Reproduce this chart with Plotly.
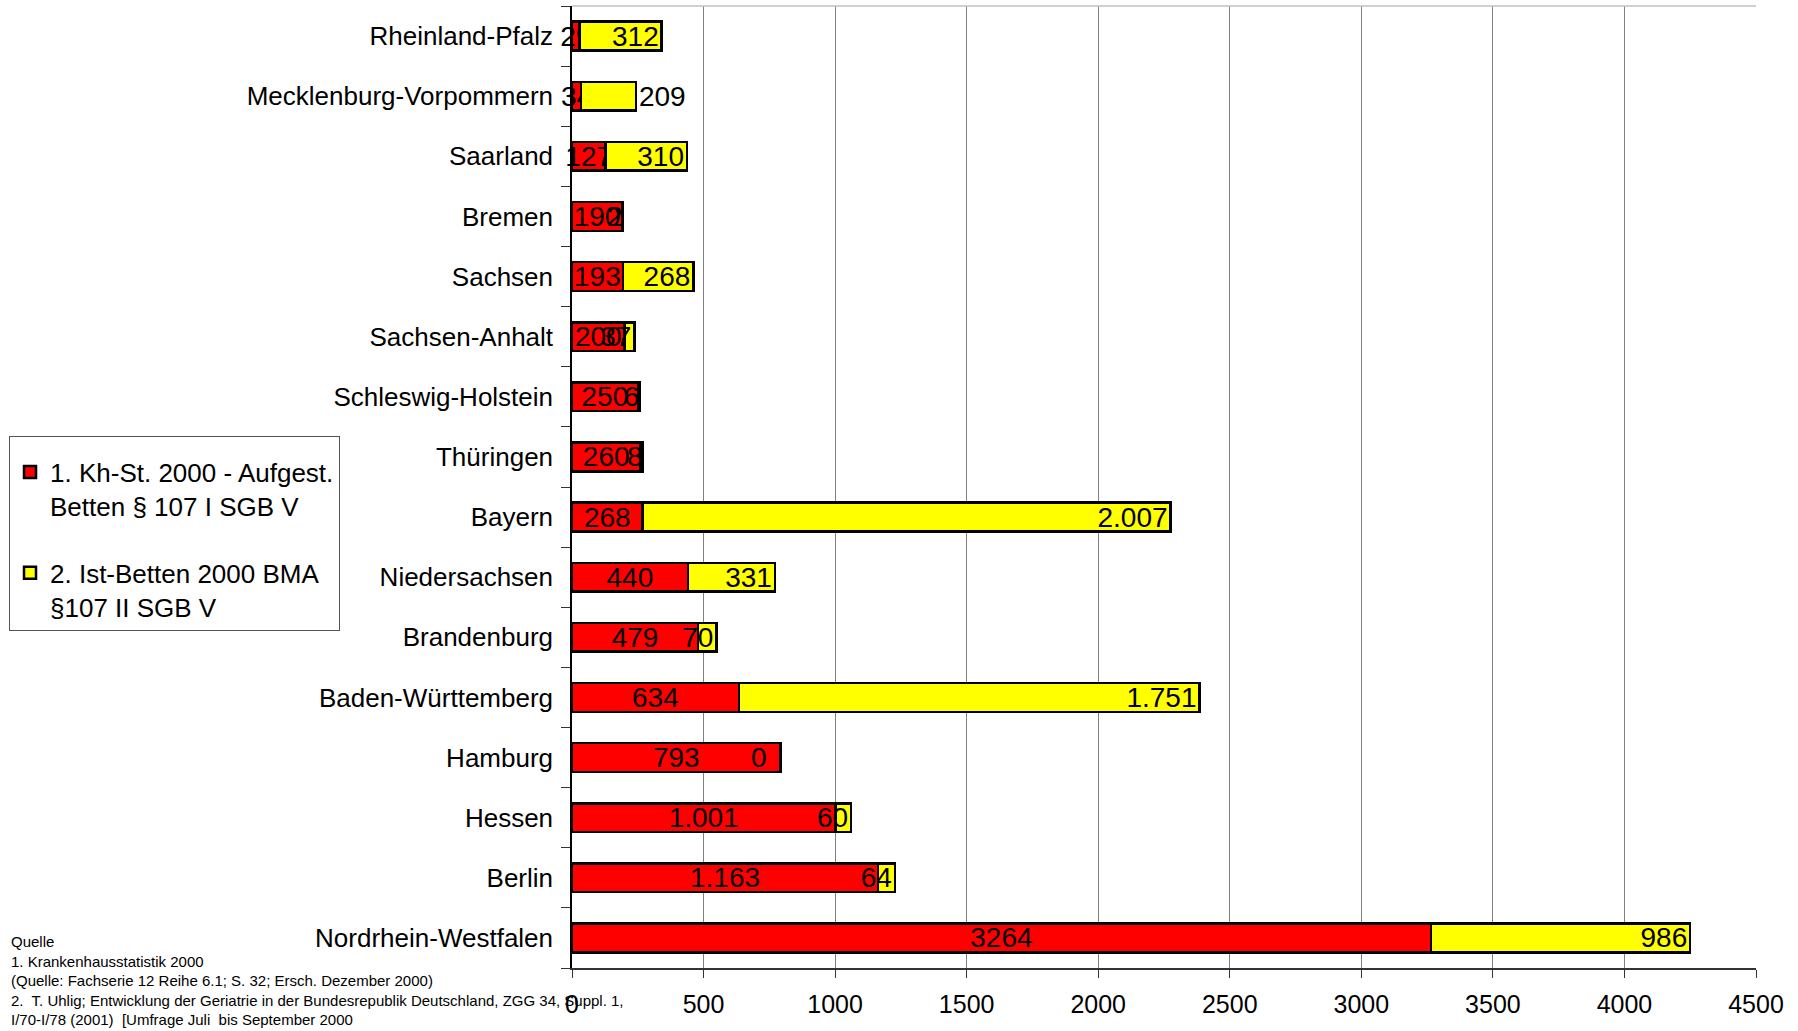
import plotly.graph_objects as go

# Categories listed bottom to top
laender = ["Nordrhein-Westfalen", "Berlin", "Hessen", "Hamburg", "Baden-Württemberg",
           "Brandenburg", "Niedersachsen", "Bayern", "Thüringen", "Schleswig-Holstein",
           "Sachsen-Anhalt", "Sachsen", "Bremen", "Saarland", "Mecklenburg-Vorpommern",
           "Rheinland-Pfalz"]
betten_107_1 = [3264, 1163, 1001, 793, 634, 479, 440, 268, 260, 250, 200, 193, 190, 127, 34, 29]
betten_107_2 = [986, 64, 60, 0, 1751, 70, 331, 2007, 8, 6, 37, 268, 2, 310, 209, 312]
labels_107_1 = ["3264", "1.163", "1.001", "793", "634", "479", "440", "268", "260", "250",
                "200", "193", "190", "127", "34", "29"]
labels_107_2 = ["986", "64", "60", "0", "1.751", "70", "331", "2.007", "8", "6",
                "37", "268", "2", "310", "209", "312"]
x_ticks = [0, 500, 1000, 1500, 2000, 2500, 3000, 3500, 4000, 4500]

name_1 = "1. Kh-St. 2000 - Aufgest.<br>Betten § 107 I SGB V"
name_2 = "2. Ist-Betten 2000 BMA<br>§107 II SGB V"

quelle = ("Quelle<br>1. Krankenhausstatistik 2000<br>"
          "(Quelle: Fachserie 12 Reihe 6.1; S. 32; Ersch. Dezember 2000)<br>"
          "2.  T. Uhlig; Entwicklung der Geriatrie in der Bundesrepublik Deutschland, ZGG 34, Suppl. 1,<br>"
          "I/70-I/78 (2001)  [Umfrage Juli  bis September 2000")

NUM_FONT = dict(family="Liberation Sans, Arial", size=28, color="black")

fig = go.Figure()
fig.add_trace(go.Bar(
    y=laender, x=betten_107_1, orientation="h", name=name_1,
    marker=dict(color="#FF0000", line=dict(color="black", width=2.5)),
    text=labels_107_1, textposition="inside", insidetextanchor="middle",
    textangle=0, textfont=NUM_FONT, constraintext="none", cliponaxis=False,
    legendgroup="a", hoverinfo="x+y"))

pos2 = ["outside" if lab == "Mecklenburg-Vorpommern" else "inside" for lab in laender]
fig.add_trace(go.Bar(
    y=laender, x=betten_107_2, orientation="h", name=name_2,
    marker=dict(color="#FFFF00", line=dict(color="black", width=2.5)),
    text=labels_107_2, textposition=pos2, insidetextanchor="end",
    textangle=0, textfont=NUM_FONT, constraintext="none", cliponaxis=False,
    legendgroup="b", hoverinfo="x+y"))

annotations = []
# zero-width segments get their label at the inside end of the stack
for cat, v1, v2, lab in zip(laender, betten_107_1, betten_107_2, labels_107_2):
    if v2 == 0:
        annotations.append(dict(x=v1 + v2, y=cat, xref="x", yref="y", text=lab,
                                showarrow=False, xanchor="right", xshift=-12,
                                font=NUM_FONT))
annotations.append(dict(x=-0.4755, y=0.0385, xref="paper", yref="paper", text=quelle,
                        showarrow=False, xanchor="left", yanchor="top", align="left",
                        font=dict(family="Liberation Sans, Arial", size=15, color="black")))

fig.update_layout(
    width=1798, height=1031,
    margin=dict(l=572, r=42, t=6, b=63),
    paper_bgcolor="white", plot_bgcolor="white",
    barmode="stack", bargap=0.52,
    uniformtext=dict(minsize=28, mode="show"),
    showlegend=True,
    legend=dict(x=-0.4755, y=0.553, xanchor="left", yanchor="top",
                bgcolor="white", bordercolor="#555555", borderwidth=1,
                font=dict(family="Liberation Sans, Arial", size=26, color="black"),
                title=dict(text=" ", font=dict(size=9)),
                traceorder="grouped", tracegroupgap=30, itemwidth=30, valign="top"),
    font=dict(family="Liberation Sans, Arial", color="black"),
    annotations=annotations,
    shapes=[dict(type="line", xref="paper", yref="paper", x0=0, x1=1, y0=1, y1=1,
                 line=dict(color="#C0C0C0", width=1.5))],
)
fig.update_xaxes(range=[0, 4500], tickvals=x_ticks, ticktext=[str(t) for t in x_ticks],
                 showgrid=True, gridcolor="#808080", gridwidth=1, zeroline=False,
                 showline=True, linecolor="#333333", linewidth=1.5,
                 ticks="outside", ticklen=8, tickcolor="#333333", ticklabelstandoff=5,
                 tickfont=dict(family="Liberation Sans, Arial", size=25, color="black"))
fig.update_yaxes(categoryorder="array", categoryarray=laender,
                 showgrid=False, zeroline=False,
                 showline=True, linecolor="black", linewidth=1.5,
                 ticks="outside", tickson="boundaries", ticklen=9, tickcolor="#333333",
                 ticklabelstandoff=12,
                 tickfont=dict(family="Liberation Sans, Arial", size=26, color="black"))

fig.write_html("out.html",
               config={"displayModeBar": False},
               post_script="document.body.style.margin='0';"
                           "document.documentElement.style.overflow='hidden';")
